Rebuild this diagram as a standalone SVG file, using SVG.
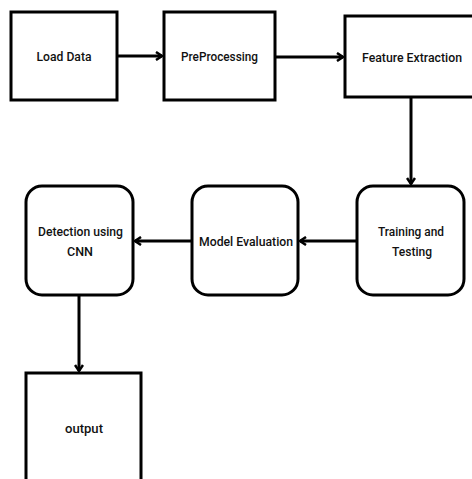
<svg xmlns="http://www.w3.org/2000/svg" width="472" height="479" viewBox="0 0 472 479">
<style>
.box{fill:#fff;stroke:#000;stroke-width:3}
.t{font-family:Roboto,"Liberation Sans",sans-serif;font-weight:500;font-size:12.5px;fill:#111;text-anchor:middle;dominant-baseline:central}
.c{fill:none;stroke:#000;stroke-width:3}
</style>
<defs>
<marker id="ah" viewBox="0 0 10 10" refX="8" refY="5" markerWidth="10" markerHeight="10" markerUnits="userSpaceOnUse" orient="auto">
<path d="M2,1 L8,5 L2,9" fill="none" stroke="#000" stroke-width="2.5"/>
</marker>
</defs>
<rect width="472" height="479" fill="#fff"/>
<g id="connectors">
<line class="c" x1="117" y1="56" x2="162" y2="56" marker-end="url(#ah)"/>
<line class="c" x1="276" y1="57" x2="343" y2="57" marker-end="url(#ah)"/>
<line class="c" x1="411" y1="98" x2="411" y2="184" marker-end="url(#ah)"/>
<line class="c" x1="356" y1="241" x2="300" y2="241" marker-end="url(#ah)"/>
<line class="c" x1="191" y1="241" x2="135" y2="241" marker-end="url(#ah)"/>
<line class="c" x1="79" y1="296" x2="79" y2="371" marker-end="url(#ah)"/>
</g>
<g id="load-data">
<rect class="box" x="11" y="12" width="106" height="88"/>
<text class="t" x="64" y="56" textLength="55" lengthAdjust="spacingAndGlyphs">Load Data</text>
</g>
<g id="preprocessing">
<rect class="box" x="164" y="12" width="111" height="88"/>
<text class="t" x="219.500" y="56" textLength="77" lengthAdjust="spacingAndGlyphs">PreProcessing</text>
</g>
<g id="feature-extraction">
<rect class="box" x="345" y="16" width="132" height="81"/>
<text class="t" x="412" y="57" textLength="100" lengthAdjust="spacingAndGlyphs">Feature Extraction</text>
</g>
<g id="training-testing">
<rect class="box" x="357" y="186" width="107" height="109" rx="16"/>
<text class="t" x="411" y="231" textLength="66" lengthAdjust="spacingAndGlyphs">Training and</text>
<text class="t" x="412" y="251" textLength="40" lengthAdjust="spacingAndGlyphs">Testing</text>
</g>
<g id="model-evaluation">
<rect class="box" x="192" y="186" width="106" height="109" rx="16"/>
<text class="t" x="246" y="241" textLength="94" lengthAdjust="spacingAndGlyphs">Model Evaluation</text>
</g>
<g id="detection-cnn">
<rect class="box" x="26" y="186" width="107" height="109" rx="16"/>
<text class="t" x="80.500" y="231" textLength="85" lengthAdjust="spacingAndGlyphs">Detection using</text>
<text class="t" x="80" y="251" textLength="26" lengthAdjust="spacingAndGlyphs">CNN</text>
</g>
<g id="output">
<rect class="box" x="26" y="373" width="115" height="120"/>
<text class="t" x="84" y="428" textLength="38" lengthAdjust="spacingAndGlyphs">output</text>
</g>
</svg>
